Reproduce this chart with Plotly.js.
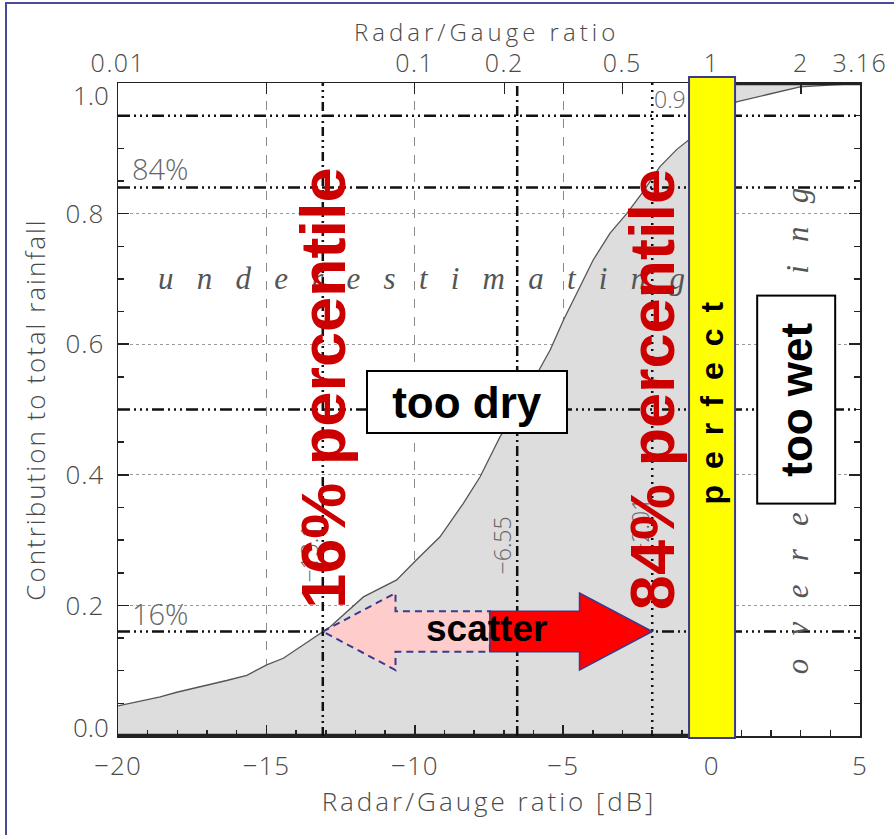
<!DOCTYPE html>
<html>
<head>
<meta charset="utf-8">
<script src="https://cdn.plot.ly/plotly-3.0.1.min.js"></script>
<style>
  html, body { margin: 0; padding: 0; background: #ffffff; }
  #wrap { position: relative; width: 894px; height: 835px; overflow: hidden; }
  #chart { width: 894px; height: 835px; }
  #frame { position: absolute; left: 5px; top: 2px; width: 1000px; height: 1000px;
           border-left: 2px solid #4a4a9c; border-top: 2px solid #4a4a9c; pointer-events: none; }
  .xtitle { letter-spacing: 3px; }
  .ytitle { letter-spacing: 2px; }
  .annotation[data-index="0"] text { letter-spacing: 4px; }
  .xtick text, .ytick text { letter-spacing: 1px; }
  .x2tick text { letter-spacing: 1.5px; }
</style>
</head>
<body>
<div id="wrap">
  <div id="chart"></div>
  <div id="frame"></div>
</div>
<script>
// Cumulative contribution to total rainfall vs radar/gauge ratio (dB)
const ratioDb = [-20, -19.26, -18.58, -18.02, -17.46, -16.9, -16.34, -15.66, -14.99, -14.43,
  -13.87, -13.53, -13.1, -12.86, -11.73, -10.61, -9.94, -9.15, -8.37, -7.8, -7.35, -7.13,
  -6.55, -5.95, -5.44, -4.99, -4.55, -3.99, -3.42, -2.86, -2.3, -1.74, -1.18, -0.78, -0.3,
  0.3, 0.84, 1.85, 2.98, 4.1, 5];
const contribution = [0.046, 0.053, 0.06, 0.067, 0.073, 0.078, 0.085, 0.093, 0.109, 0.119,
  0.136, 0.147, 0.16, 0.167, 0.213, 0.239, 0.27, 0.305, 0.356, 0.397, 0.438, 0.458,
  0.5, 0.55, 0.591, 0.637, 0.678, 0.729, 0.77, 0.8, 0.834, 0.872, 0.898, 0.913, 0.93,
  0.952, 0.971, 0.982, 0.994, 0.997, 0.999];

// Ideal (perfect) case: all rain at 0 dB
const perfectX = [-20, 0, 0, 5];
const perfectY = [0, 0, 1, 1];

// Percentiles of the distribution (dB)
const p16 = -13.1;
const p50 = -6.55;
const p84 = -2.0;
const levels = [0.16, 0.5, 0.84, 0.95];

// Left axis ticks (end labels are drawn slightly inset)
const yTicks = [0, 0.2, 0.4, 0.6, 0.8, 1.0];
const yLabels = ['', '0.2', '0.4', '0.6', '0.8', ''];

// Top axis: linear ratio labels
const ratioTicks = [0.01, 0.1, 0.2, 0.5, 1, 2, 3.16];
const ratioLabels = ['0.01', '0.1', '0.2', '0.5', '1', '2', '3.16'];
const ratioMinor = [0.0316, 0.316];

const toDb = r => 10 * Math.log10(r);
const axisFont = { family: 'Open Sans, Liberation Sans, sans-serif', size: 26, color: '#4a4a4a', weight: 300 };
const topFont = { family: 'Open Sans, Liberation Sans, sans-serif', size: 25, color: '#4a4a4a', weight: 300 };
const titleFont = { family: 'Open Sans, Liberation Sans, sans-serif', size: 26, color: '#4a4a4a', weight: 300 };
const red = '#cc0000';
const navy = '#3a3a8c';

const traces = [
  // lower boundary of the shaded area: the perfect step
  { x: perfectX, y: perfectY, type: 'scatter', mode: 'lines',
    line: { color: '#222222', width: 0 }, hoverinfo: 'skip', showlegend: false },
  // shaded area between observed curve and the perfect step
  { x: ratioDb, y: contribution, type: 'scatter', mode: 'lines', fill: 'tonexty',
    fillcolor: '#dddddd', line: { color: '#555555', width: 1.3 }, hoverinfo: 'skip', showlegend: false },
  { x: perfectX, y: perfectY, type: 'scatter', mode: 'lines',
    line: { color: '#222222', width: 4.5 }, hoverinfo: 'skip', showlegend: false },
  { x: ratioDb, y: contribution, xaxis: 'x2', type: 'scatter', mode: 'lines',
    line: { width: 0 }, opacity: 0, hoverinfo: 'skip', showlegend: false }
];

const dashDot3 = '12px,4px,2px,4px,2px,4px,2px,4px';
const shapes = [];
levels.forEach(v => shapes.push({
  type: 'line', xref: 'x', yref: 'y', x0: -20, x1: 5, y0: v, y1: v,
  line: { color: '#111111', width: 2.5, dash: dashDot3 }, layer: 'above'
}));
shapes.push({ type: 'line', xref: 'x', yref: 'y', x0: p16, x1: p16, y0: 0, y1: 1,
  line: { color: '#111111', width: 2.5, dash: '9px,4px,2px,4px,2px,4px' }, layer: 'above' });
shapes.push({ type: 'line', xref: 'x', yref: 'y', x0: p50, x1: p50, y0: 0, y1: 1,
  line: { color: '#111111', width: 2.5, dash: '10px,4px,2px,4px' }, layer: 'above' });
shapes.push({ type: 'line', xref: 'x', yref: 'y', x0: p84, x1: p84, y0: 0, y1: 1,
  line: { color: '#111111', width: 2.5, dash: '2px,5px' }, layer: 'above' });

// "perfect" band around 0 dB
shapes.push({ type: 'rect', xref: 'x', yref: 'paper', x0: -0.76, x1: 0.79, y0: -0.003, y1: 1.009,
  fillcolor: '#ffff00', line: { color: navy, width: 2 }, layer: 'above' });

// Scatter arrows between the 16% and 84% percentiles
const yA = 0.16, headLen = 2.45, headH = 0.059, shaftH = 0.031, mid = -7.47;
const pinkPath = `M ${p16} ${yA} L ${p16 + headLen} ${yA + headH} L ${p16 + headLen} ${yA + shaftH} ` +
  `L ${mid} ${yA + shaftH} L ${mid} ${yA - shaftH} L ${p16 + headLen} ${yA - shaftH} ` +
  `L ${p16 + headLen} ${yA - headH} Z`;
const redPath = `M ${p84} ${yA} L ${p84 - headLen} ${yA + headH} L ${p84 - headLen} ${yA + shaftH} ` +
  `L ${mid} ${yA + shaftH} L ${mid} ${yA - shaftH} L ${p84 - headLen} ${yA - shaftH} ` +
  `L ${p84 - headLen} ${yA - headH} Z`;
shapes.push({ type: 'path', xref: 'x', yref: 'y', path: pinkPath, fillcolor: '#ffcccc',
  line: { color: navy, width: 2, dash: '7px,5px' }, layer: 'above' });
shapes.push({ type: 'path', xref: 'x', yref: 'y', path: redPath, fillcolor: '#ff0000',
  line: { color: navy, width: 1.5 }, layer: 'above' });

const gap = '\u2002\u2005';
const spaced = s => s.split('').join(gap);
const grayFont = size => ({ family: 'Open Sans, Liberation Sans, sans-serif', size: size, color: '#666666', weight: 300 });
const italicFont = { family: 'Liberation Serif, DejaVu Serif, serif', size: 31, color: '#555555', style: 'italic' };
const boldFont = (size, color) => ({ family: 'Liberation Sans, Arial, sans-serif', size: size, color: color, weight: 'bold' });

const annotations = [
  { xref: 'paper', yref: 'paper', x: 0.496, y: 1.079, yanchor: 'middle', text: 'Radar/Gauge ratio',
    showarrow: false, font: { ...titleFont, size: 24 } },
  { xref: 'paper', yref: 'y', x: 0, y: yTicks[yTicks.length - 1], yshift: -12, xanchor: 'right',
    xshift: -7, text: yTicks[yTicks.length - 1].toFixed(1), showarrow: false, font: axisFont },
  { xref: 'paper', yref: 'y', x: 0, y: yTicks[0], yshift: 9, xanchor: 'right',
    xshift: -7, text: yTicks[0].toFixed(1), showarrow: false, font: axisFont },
  { x: -19.6, y: 0.84, text: '84%', xanchor: 'left', yanchor: 'bottom', yshift: -3, showarrow: false, font: grayFont(29) },
  { x: -19.6, y: 0.16, text: '16%', xanchor: 'left', yanchor: 'bottom', yshift: -3, showarrow: false, font: grayFont(29) },
  { x: -7.06, y: 0.292, text: '\u22126.55', textangle: -90, showarrow: false, font: grayFont(23) },
  { x: -13.55, y: 0.28, text: '\u221213.1', textangle: -90, showarrow: false, font: grayFont(23) },
  { x: -2.42, y: 0.32, text: '\u22122.01', textangle: -90, showarrow: false, font: grayFont(23) },
  { x: p84, y: 0.975, text: '0.9', xanchor: 'left', showarrow: false, font: grayFont(23) },
  { x: -9.76, y: 0.70, text: spaced('underestimating'), showarrow: false, font: italicFont },
  { x: 2.88, y: 0.467, text: spaced('overestimating'), textangle: -90, showarrow: false, font: italicFont },
  { x: -8.24, y: 0.511, text: 'too dry', showarrow: false, font: boldFont(44, '#000000'),
    bgcolor: '#ffffff', bordercolor: '#000000', borderwidth: 2, borderpad: 0, width: 198, height: 60 },
  { x: 2.84, y: 0.515, text: 'too wet', textangle: -90, showarrow: false, font: boldFont(44, '#000000'),
    bgcolor: '#ffffff', bordercolor: '#000000', borderwidth: 2, borderpad: 0, width: 206, height: 76 },
  { x: 0, y: 0.51, text: 'perfect'.split('').join('\u2002'), textangle: -90, showarrow: false,
    font: boldFont(32, '#000000') },
  { x: -7.6, y: 0.165, text: 'scatter', showarrow: false, font: boldFont(37, '#000000') },
  { x: p16, y: 0.533, text: '16% percentile', textangle: -90, showarrow: false, font: boldFont(63, red) },
  { x: p84, y: 0.53, text: '84% percentile', textangle: -90, showarrow: false, font: boldFont(63, red) }
];

const layout = {
  width: 894, height: 835,
  margin: { l: 118, r: 34, t: 83, b: 99 },
  paper_bgcolor: '#ffffff', plot_bgcolor: '#ffffff',
  showlegend: false,
  xaxis: {
    range: [-20, 5], dtick: 5, tick0: 0, ticks: 'inside', ticklen: 11, tickwidth: 1.5, tickcolor: '#222',
    minor: { ticks: 'inside', dtick: 1, ticklen: 6, tickcolor: '#222', showgrid: false },
    showline: true, linecolor: '#222', linewidth: 1.5, mirror: true,
    showgrid: true, gridcolor: '#8a8a8a', griddash: 'dash', gridwidth: 1, zeroline: false,
    tickfont: axisFont, ticklabelstandoff: 6,
    title: { text: 'Radar/Gauge ratio [dB]', font: titleFont, standoff: 4 }
  },
  xaxis2: {
    overlaying: 'x', side: 'top', anchor: 'y', range: [-20, 5],
    tickmode: 'array', tickvals: ratioTicks.map(toDb), ticktext: ratioLabels,
    ticks: 'inside', ticklen: 11, tickwidth: 1.2, tickcolor: '#222',
    minor: { ticks: 'inside', tickvals: ratioMinor.map(toDb), ticklen: 11, tickcolor: '#222' },
    showline: false, showgrid: false, zeroline: false,
    tickfont: topFont, ticklabelstandoff: 5
  },
  yaxis: {
    range: [0, 1], tickmode: 'array', tickvals: yTicks, ticktext: yLabels,
    ticks: 'inside', ticklen: 11, tickwidth: 1.5, tickcolor: '#222',
    minor: { ticks: 'inside', dtick: 0.05, ticklen: 6, tickcolor: '#222', showgrid: false },
    showline: true, linecolor: '#222', linewidth: 1.5, mirror: 'ticks',
    showgrid: true, gridcolor: '#9a9a9a', griddash: 'dot', gridwidth: 1, zeroline: false,
    tickfont: axisFont, ticklabelstandoff: 7,
    title: { text: 'Contribution to total rainfall', font: titleFont, standoff: 12 }
  },
  shapes: shapes,
  annotations: annotations
};

Plotly.newPlot('chart', traces, layout, { displayModeBar: false, staticPlot: true });
</script>
</body>
</html>
